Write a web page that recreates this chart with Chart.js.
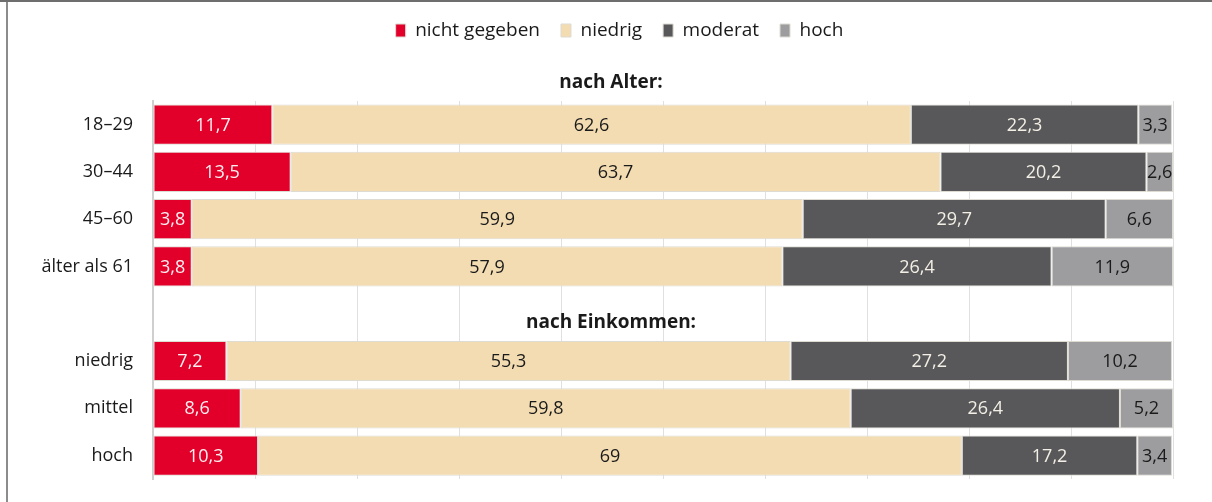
<!DOCTYPE html>
<html>
<head>
  <meta charset="utf-8">
  <script src="https://cdn.jsdelivr.net/npm/chart.js"></script>
  <title>Einschätzung nach Alter und Einkommen</title>
  <style>
    body { margin: 0; background: #fff; }
    .wrap { position: relative; width: 1212px; height: 502px; }
    .frame-left { position: absolute; left: 6px; top: 0; width: 2px; height: 502px; background: #8c8c8c; }
    .frame-top { position: absolute; left: 0; top: 0; width: 1212px; height: 2px; background: #6e6e6e; }
  </style>
</head>
<body>
  <div class="wrap">
    <canvas id="chart" width="1212" height="502"></canvas>
    <div class="frame-left"></div>
    <div class="frame-top"></div>
  </div>
  <script>
    const categories = ['18–29', '30–44', '45–60', 'älter als 61', '', 'niedrig', 'mittel', 'hoch'];
    const groupHeaders = ['nach Alter:', 'nach Einkommen:'];
    const seriesNames = ['nicht gegeben', 'niedrig', 'moderat', 'hoch'];

    const nichtGegeben = [11.7, 13.5, 3.8, 3.8, null, 7.2, 8.6, 10.3];
    const niedrig      = [62.6, 63.7, 59.9, 57.9, null, 55.3, 59.8, 69];
    const moderat      = [22.3, 20.2, 29.7, 26.4, null, 27.2, 26.4, 17.2];
    const hoch         = [3.3, 2.6, 6.6, 11.9, null, 10.2, 5.2, 3.4];

    const colors = ['#e2002a', '#f3dcb2', '#58585a', '#9d9d9f'];
    const labelColors = ['#fbeff0', '#1a1a1a', '#f3efe6', '#1a1a1a'];
    const FONT = "'Open Sans', sans-serif";

    // value labels centred in each segment
    const valueLabels = {
      id: 'valueLabels',
      afterDatasetsDraw(chart) {
        const ctx = chart.ctx;
        ctx.save();
        ctx.font = '18px ' + FONT;
        ctx.textAlign = 'center';
        ctx.textBaseline = 'middle';
        chart.data.datasets.forEach((ds, i) => {
          chart.getDatasetMeta(i).data.forEach((bar, j) => {
            const v = ds.data[j];
            if (v == null) return;
            const p = bar.getProps(['x', 'y', 'base']);
            ctx.fillStyle = labelColors[i];
            ctx.fillText(String(v).replace('.', ','), (p.x + p.base) / 2, p.y + 1);
          });
        });
        ctx.restore();
      }
    };

    // group headings: one above the first row, one in the empty row
    const headings = {
      id: 'headings',
      afterDraw(chart) {
        const ctx = chart.ctx;
        const y = chart.scales.y;
        const step = y.getPixelForValue(1) - y.getPixelForValue(0);
        const cx = 611;
        ctx.save();
        ctx.font = 'bold 19px ' + FONT;
        ctx.fillStyle = '#1a1a1a';
        ctx.textAlign = 'center';
        ctx.textBaseline = 'middle';
        ctx.fillText(groupHeaders[0], cx, y.getPixelForValue(0) - step * 0.88);
        ctx.fillText(groupHeaders[1], cx, y.getPixelForValue(categories.indexOf('')) + step * 0.18);
        ctx.restore();
      }
    };

    // extra space under the legend, and move it a bit to the right
    const legendSpace = {
      id: 'legendSpace',
      beforeInit(chart) {
        const fit = chart.legend.fit;
        chart.legend.fit = function () {
          fit.bind(chart.legend)();
          this.height += 51;
        };
      },
      afterLayout(chart) {
        chart.legend.left += 33;
        chart.legend.right += 33;
      }
    };

    const ctx = document.getElementById('chart').getContext('2d');
    new Chart(ctx, {
      type: 'bar',
      data: {
        labels: categories,
        datasets: [nichtGegeben, niedrig, moderat, hoch].map((d, i) => ({
          label: seriesNames[i],
          data: d,
          backgroundColor: colors[i],
          borderColor: '#dedbd3',
          borderWidth: 1,
          borderSkipped: false,
          categoryPercentage: 1,
          barPercentage: 0.85
        }))
      },
      options: {
        indexAxis: 'y',
        responsive: false,
        animation: false,
        layout: { padding: { top: 0, right: 39, bottom: 18, left: 0 } },
        scales: {
          x: {
            stacked: true,
            min: 0,
            max: 100,
            ticks: { display: false, stepSize: 10 },
            grid: { color: '#e0e0e0', drawTicks: false },
            border: { display: false }
          },
          y: {
            stacked: true,
            grid: { display: false },
            border: { color: '#cfcfcf', width: 2 },
            ticks: { color: '#1a1a1a', font: { family: FONT, size: 18 }, padding: 12 },
            afterFit(scale) { scale.width = 153; }
          }
        },
        plugins: {
          legend: {
            position: 'top',
            labels: {
              boxWidth: 10,
              boxHeight: 13,
              padding: 21,
              color: '#1a1a1a',
              font: { family: FONT, size: 19 }
            }
          },
          tooltip: { enabled: false }
        }
      },
      plugins: [valueLabels, headings, legendSpace]
    });
  </script>
</body>
</html>
